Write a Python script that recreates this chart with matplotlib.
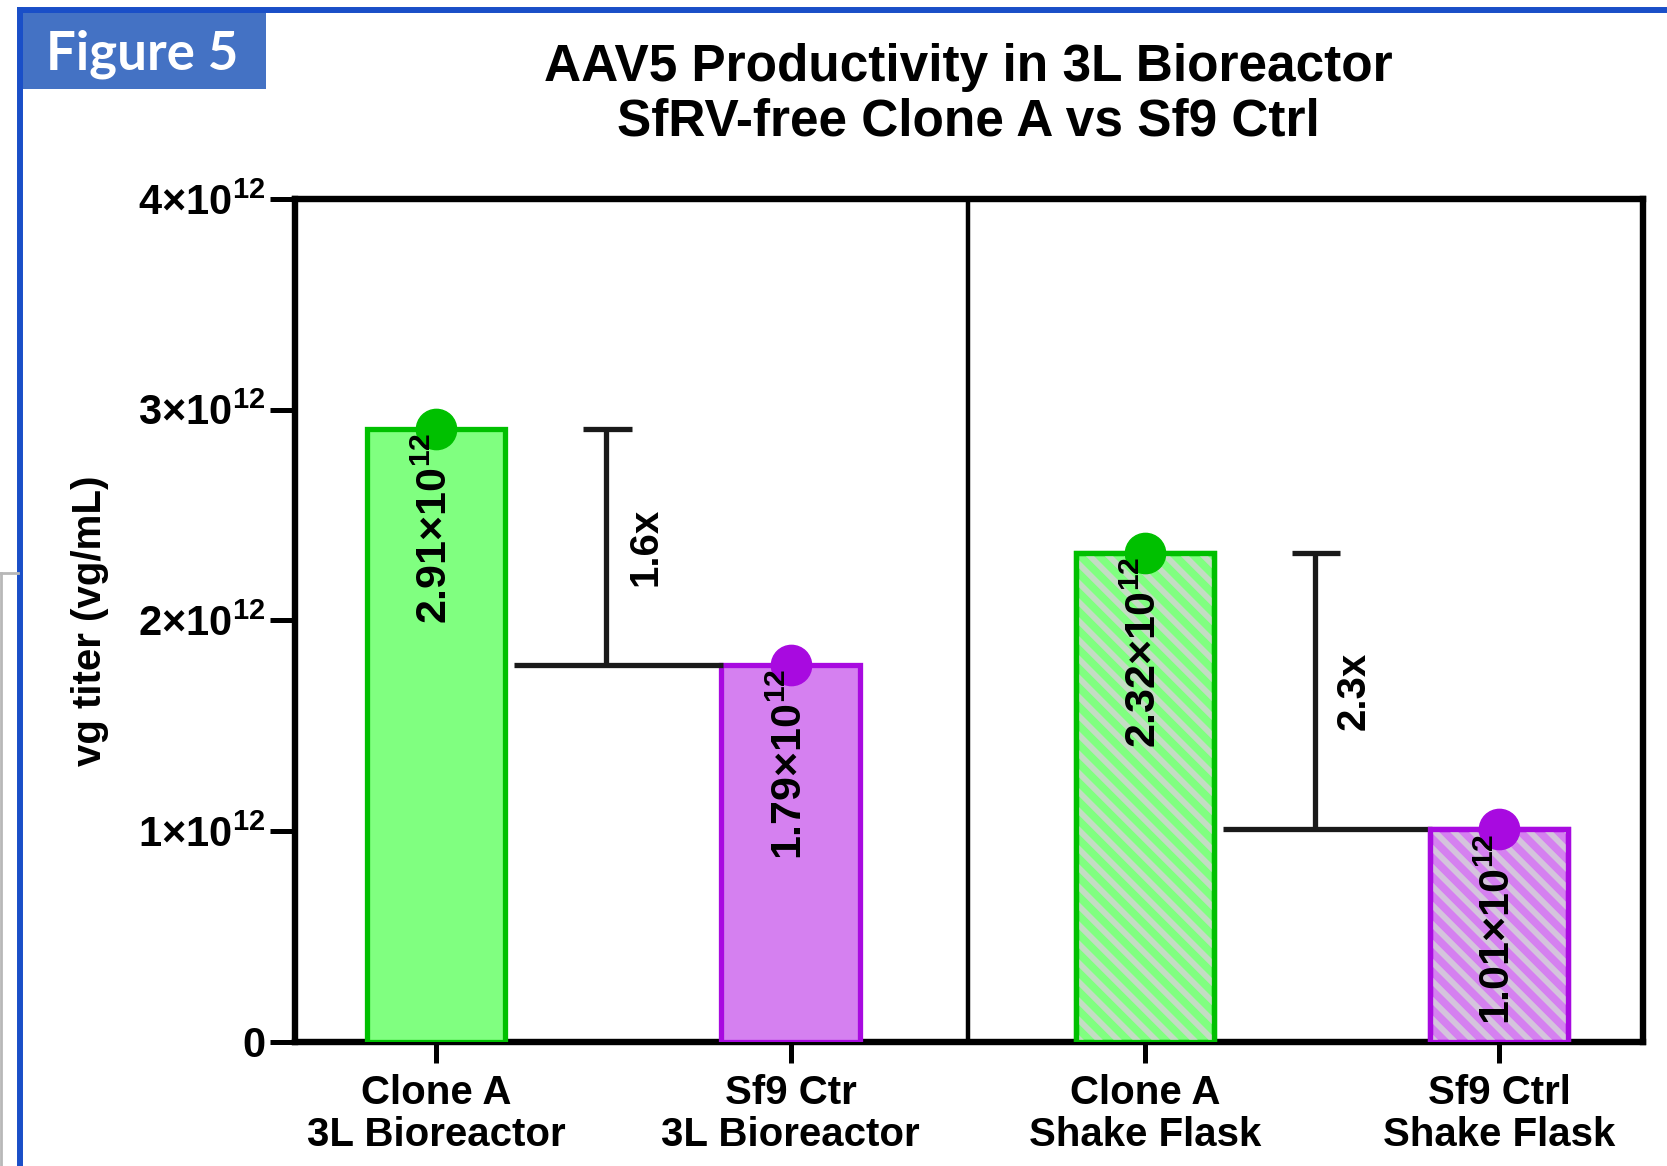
import numpy as np
import matplotlib
matplotlib.use("Agg")
import matplotlib.pyplot as plt
from matplotlib.lines import Line2D
from matplotlib.patches import Rectangle
from matplotlib.transforms import IdentityTransform

plt.rcParams['font.family'] = ['Liberation Sans', 'DejaVu Sans']
plt.rcParams['font.weight'] = 'bold'
plt.rcParams['mathtext.fontset'] = 'custom'
plt.rcParams['mathtext.rm'] = 'Liberation Sans'
plt.rcParams['mathtext.bf'] = 'Liberation Sans:bold'
plt.rcParams['mathtext.it'] = 'Liberation Sans:italic'

# --- data ---
categories = ["Clone A\n3L Bioreactor", "Sf9 Ctr\n3L Bioreactor",
              "Clone A\nShake Flask", "Sf9 Ctrl\nShake Flask"]
titers = [2.91e12, 1.79e12, 2.32e12, 1.01e12]
bar_labels = ["2.91", "1.79", "2.32", "1.01"]
fill_colors = ["#80ff80", "#d580f0", "#80ff80", "#d580f0"]
edge_colors = ["#00c000", "#a80ae0", "#00c000", "#a80ae0"]
hatched = [False, False, True, True]
stripe_colors = [None, None, "#c4dcc4", "#d4c4dc"]
fold_pairs = [(0, 1), (2, 3)]
fold_labels = ["1.6x", "2.3x"]
ytick_vals = [0, 1e12, 2e12, 3e12, 4e12]
ytick_labels = ["0", r"$\mathbf{1{\times}10^{12}}$", r"$\mathbf{2{\times}10^{12}}$",
                r"$\mathbf{3{\times}10^{12}}$", r"$\mathbf{4{\times}10^{12}}$"]

fig = plt.figure(figsize=(16.67, 11.66), dpi=100)
ax = fig.add_axes([0.1767, 0.1064, 0.8087, 0.7231])
ax.set_xlim(-0.4, 3.405)
ax.set_ylim(0, 4e12)

x = np.arange(len(categories))
bw = 0.39

for i in range(len(x)):
    ax.bar(x[i], titers[i], width=bw, color=fill_colors[i], edgecolor=edge_colors[i],
           linewidth=3.8, zorder=3)
    if hatched[i]:
        # diagonal stripes in pixel space, clipped to the bar by hand
        (px0, py0), (px1, py1) = ax.transData.transform(
            [(x[i] - bw / 2, 0), (x[i] + bw / 2, titers[i])])
        for c in np.arange(px0 + py0 + 6, px1 + py1, 19):
            xa = max(px0, c - py1)
            xb = min(px1, c - py0)
            if xb <= xa:
                continue
            ax.add_line(Line2D([xa, xb], [c - xa, c - xb], color=stripe_colors[i], lw=4.2,
                               transform=IdentityTransform(), zorder=3.5,
                               solid_capstyle='butt'))
        ax.bar(x[i], titers[i], width=bw, facecolor='none', edgecolor=edge_colors[i],
               linewidth=3.8, zorder=3.6)
    ax.plot(x[i], titers[i], 'o', ms=29, color=edge_colors[i], zorder=4, clip_on=False)
    ax.text(x[i], titers[i] - 0.02e12, r'$\mathbf{' + bar_labels[i] + r'{\times}10}^{12}$',
            rotation=90, ha='center', va='top', fontsize=31, zorder=5)

# fold-change brackets
for (i, j), lab in zip(fold_pairs, fold_labels):
    hi, lo = titers[i], titers[j]
    ax.plot([x[i] + 0.22, x[j] - 0.19], [lo, lo], color='#1a1a1a', lw=3.8, zorder=3,
            solid_capstyle='butt')
    ax.plot([x[i] + 0.48, x[i] + 0.48], [lo, hi], color='#1a1a1a', lw=3.8, zorder=3,
            solid_capstyle='butt')
    ax.plot([x[i] + 0.414, x[i] + 0.552], [hi, hi], color='#1a1a1a', lw=3.8, zorder=3,
            solid_capstyle='butt')
    ax.text(x[i] + 0.59, (hi + lo) / 2, lab, rotation=90, ha='center', va='center',
            fontsize=29)

ax.axvline(1.5, color='black', lw=3.2, zorder=1)

ax.set_yticks(ytick_vals)
ax.set_yticklabels(ytick_labels, fontsize=30)
ax.set_xticks(x)
ax.set_xticklabels(categories, fontsize=29, linespacing=1.15)
for s in ax.spines.values():
    s.set_linewidth(4.6)
ax.tick_params(axis='y', length=18, width=3.6, pad=3)
ax.tick_params(axis='x', length=15, width=3.6, pad=8)
ax.set_ylabel("vg titer (vg/mL)", fontsize=29, fontweight='bold')
ax.yaxis.set_label_coords(-0.138, 0.5)

fig.text(0.581, 0.942, "AAV5 Productivity in 3L Bioreactor", ha='center', va='center',
         fontsize=37)
fig.text(0.581, 0.895, "SfRV-free Clone A vs Sf9 Ctrl", ha='center', va='center',
         fontsize=37)

# page decorations
fig.add_artist(Line2D([0.012, 1.0], [0.9914, 0.9914], color='#1a4fc8', lw=4.3))
fig.add_artist(Line2D([0.012, 0.012], [0.0, 0.9914], color='#1a4fc8', lw=4.3))
fig.add_artist(Line2D([0.0, 0.0108], [0.5086, 0.5086], color='#b8b8b8', lw=2))
fig.add_artist(Line2D([0.0006, 0.0006], [0.0, 0.5086], color='#b8b8b8', lw=2))
fig.add_artist(Rectangle((0.012, 0.9237), 0.1476, 0.066, transform=fig.transFigure,
                         facecolor='#4472c4', edgecolor='none'))
fig.text(0.0854, 0.9408, "Figure 5", ha='center', va='baseline', color='white',
         fontsize=38, family=['Lato', 'DejaVu Sans'], weight='bold')

fig.savefig("out.png", dpi=100)
